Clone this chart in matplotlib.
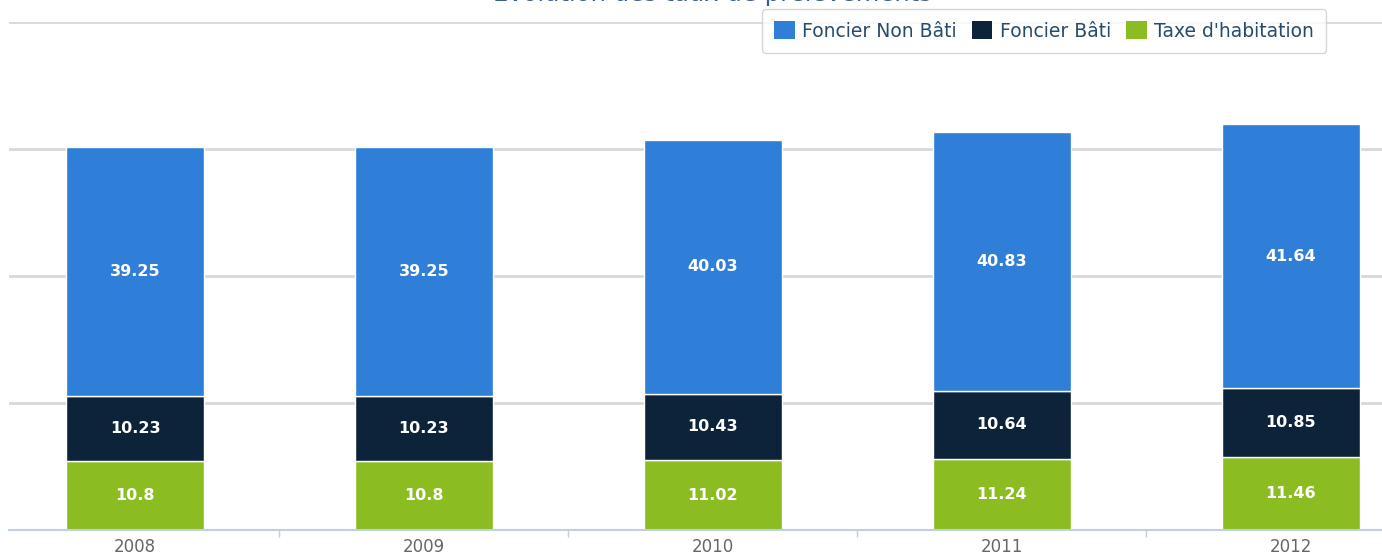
import matplotlib
matplotlib.use('Agg')
import matplotlib.pyplot as plt
import numpy as np

plt.rcParams['font.family'] = ['DejaVu Sans']

years = ['2008', '2009', '2010', '2011', '2012']
taxe_habitation = [10.8, 10.8, 11.02, 11.24, 11.46]
foncier_bati = [10.23, 10.23, 10.43, 10.64, 10.85]
foncier_non_bati = [39.25, 39.25, 40.03, 40.83, 41.64]

colors = {'Foncier Non Bâti': '#2f7ed8', 'Foncier Bâti': '#0d233a', "Taxe d'habitation": '#8bbc21'}

W, H = 1382, 555
fig = plt.figure(figsize=(W / 100, H / 100), dpi=100)
# plot area: left at 9px, baseline at 530px, top gridline (80) at 22px
ax = fig.add_axes([9 / W, (H - 530) / H, (W - 9) / W, (530 - 22) / H])

x = np.arange(len(years))
width = 0.478

bottom = np.zeros(len(years))
series = [("Taxe d'habitation", taxe_habitation),
          ('Foncier Bâti', foncier_bati),
          ('Foncier Non Bâti', foncier_non_bati)]
bars = {}
for name, vals in series:
    vals = np.array(vals)
    b = ax.bar(x, vals, width, bottom=bottom, color=colors[name],
               edgecolor='white', linewidth=1, zorder=3)
    bars[name] = b
    for xi, v, bt in zip(x, vals, bottom):
        ax.text(xi, bt + v / 2, f'{v:g}', ha='center', va='center',
                color='white', fontsize=11.5, fontweight='bold', zorder=4)
    bottom = bottom + vals

ax.set_xlim(-0.436, 4.315)
ax.set_ylim(0, 80)
ax.set_yticks([0, 20, 40, 60, 80])
ax.yaxis.grid(True, color='#d8d8d8', linewidth=2, zorder=0)
ax.tick_params(axis='y', left=False, labelleft=False)

ax.set_xticks(x)
ax.set_xticklabels(years, color='#666666', fontsize=12)
ax.set_xticks(x[:-1] + 0.5, minor=True)
ax.tick_params(axis='x', which='major', length=0, pad=6)
ax.tick_params(axis='x', which='minor', length=5, color='#c0d0e0', width=1)

for s in ['top', 'right', 'left']:
    ax.spines[s].set_visible(False)
ax.spines['bottom'].set_color('#c0d0e0')
ax.spines['bottom'].set_linewidth(1.5)
ax.spines['bottom'].set_zorder(5)

# title sits mostly above the visible area, as in the source screenshot
fig.text(712 / W, 1 - 1.5 / H, 'Evolution des taux de prélèvements',
         ha='center', va='baseline', fontsize=17.5, color='#3e5f8a')

handles = [bars['Foncier Non Bâti'], bars['Foncier Bâti'], bars["Taxe d'habitation"]]
labels = ['Foncier Non Bâti', 'Foncier Bâti', "Taxe d'habitation"]
leg = fig.legend(handles, labels, loc='center', bbox_to_anchor=(1044 / W, 1 - 31 / H),
                 ncol=3, frameon=True, fontsize=13.5, handlelength=1.1,
                 handleheight=1.1, handletextpad=0.4, columnspacing=0.8,
                 borderpad=0.65, fancybox=True, edgecolor='#cccccc', labelcolor='#274b6d')
leg.get_frame().set_linewidth(1)
for h in leg.legend_handles:
    h.set_edgecolor('none')

fig.savefig('out.png', dpi=100)
